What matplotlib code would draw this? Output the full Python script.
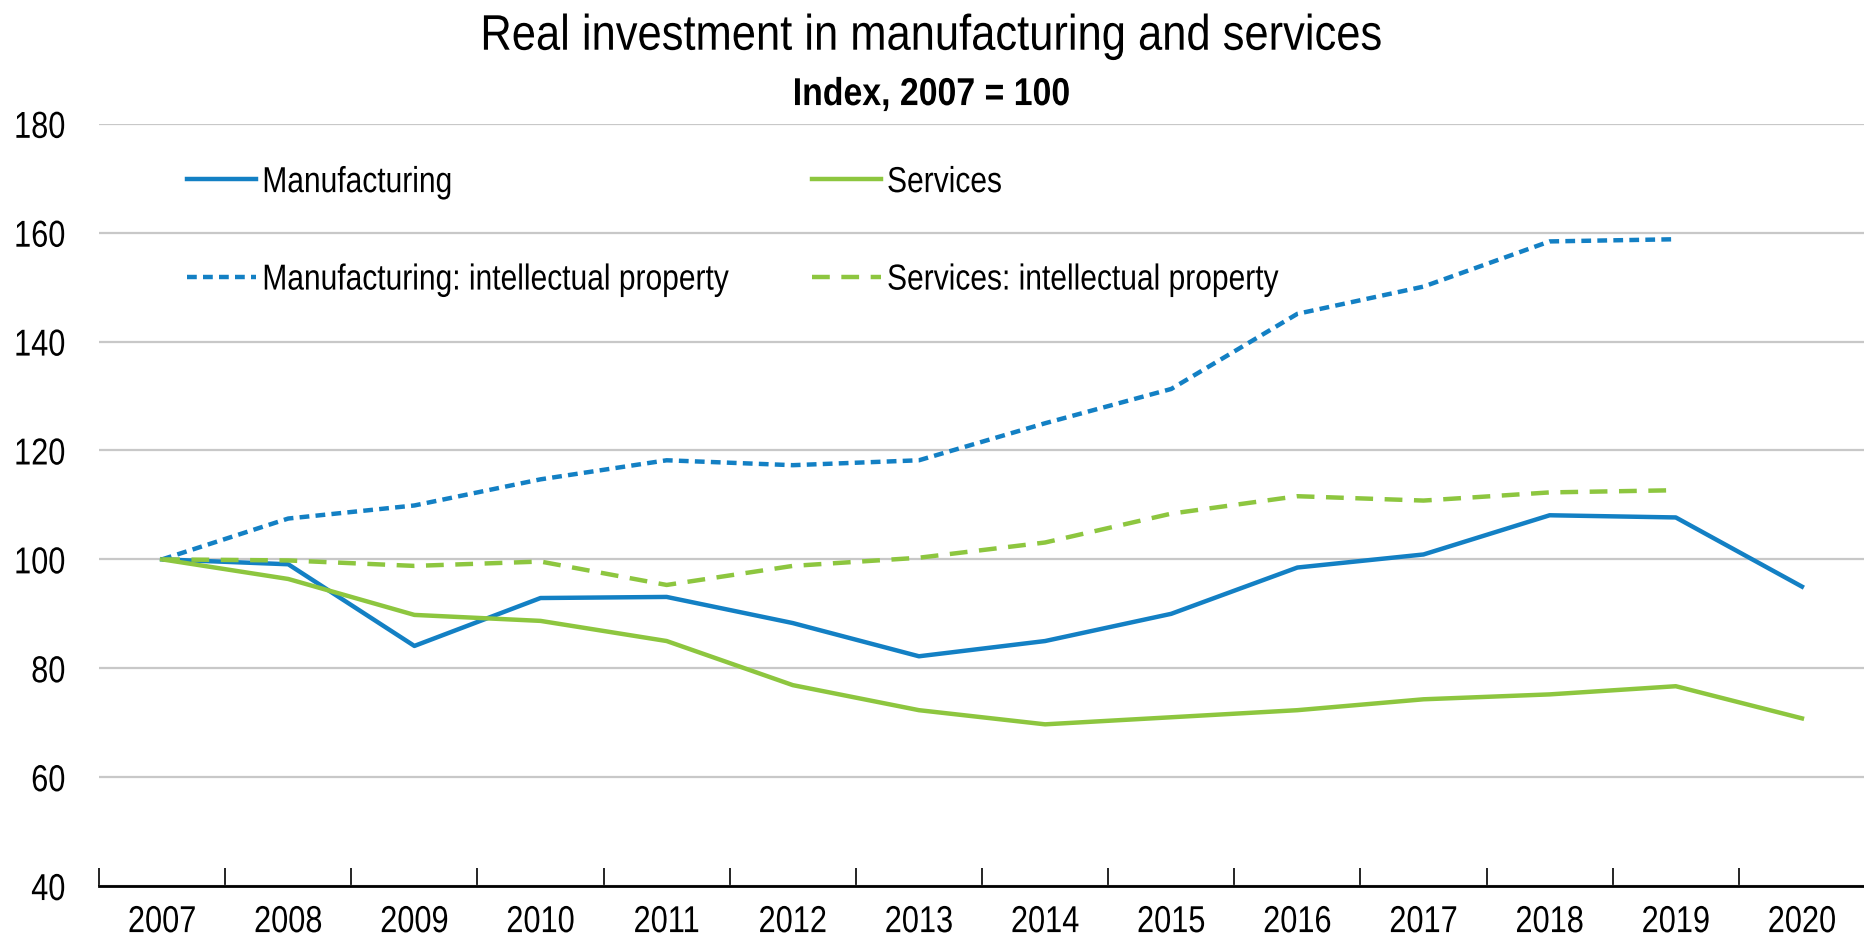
import matplotlib
matplotlib.use("Agg")
import matplotlib.pyplot as plt
from matplotlib.ticker import FixedLocator
from matplotlib.transforms import Affine2D
from matplotlib import patheffects
import numpy as np

plt.rcParams['font.family'] = ['Liberation Sans', 'DejaVu Sans']

years = ["2007", "2008", "2009", "2010", "2011", "2012", "2013",
         "2014", "2015", "2016", "2017", "2018", "2019", "2020"]
manufacturing = [100, 99.1, 84.1, 92.9, 93.1, 88.3, 82.2, 85.0, 90.0, 98.5, 100.9, 108.1, 107.7, 95.0]
services = [100, 96.4, 89.8, 88.7, 85.0, 76.9, 72.3, 69.7, 71.0, 72.3, 74.3, 75.2, 76.7, 70.8]
manuf_ip = [100, 107.5, 109.9, 114.7, 118.2, 117.3, 118.2, 125.0, 131.3, 145.1, 150.1, 158.4, 158.8]
services_ip = [100, 99.8, 98.8, 99.6, 95.3, 98.8, 100.3, 103.1, 108.4, 111.6, 110.8, 112.3, 112.7]
yticks = [40, 60, 80, 100, 120, 140, 160, 180]

blue = "#1380C4"
green = "#8DC63F"


class Narrow(patheffects.AbstractPathEffect):
    """Horizontally condense glyphs about an anchor (0=left, 0.5=center, 1=right)."""
    def __init__(self, sx=0.83, frac=0.0):
        super().__init__()
        self.sx = sx
        self.frac = frac

    def draw_path(self, renderer, gc, tpath, affine, rgbFace=None):
        ext = tpath.get_extents()
        anchor = ext.x0 + self.frac * (ext.x1 - ext.x0)
        t = Affine2D().translate(-anchor, 0).scale(self.sx, 1.0).translate(anchor, 0)
        renderer.draw_path(gc, tpath, t + affine, rgbFace)


fig = plt.figure(figsize=(18.65, 9.38), dpi=100)
ax = fig.add_axes([0.0531, 0.0554, 0.9469, 0.8126])

x = np.arange(len(years))
lw = 3.2
l1, = ax.plot(x, manufacturing, color=blue, lw=lw, label="Manufacturing")
l2, = ax.plot(x, services, color=green, lw=lw, label="Services")
l3, = ax.plot(x[:len(manuf_ip)], manuf_ip, color=blue, lw=lw, dashes=(2.2, 1.4),
              label="Manufacturing: intellectual property")
l4, = ax.plot(x[:len(services_ip)], services_ip, color=green, lw=lw, dashes=(4.0, 2.6),
              label="Services: intellectual property")

ax.set_xlim(-0.5, len(years) - 0.5)
ax.set_ylim(40, 180)
ax.set_yticks(yticks)
ax.set_xticks(x)
ax.set_xticklabels(years)
ax.xaxis.set_minor_locator(FixedLocator(np.arange(-0.5, len(years), 1.0)))
ax.tick_params(axis='x', which='major', length=0, pad=13, labelsize=27)
ax.tick_params(axis='x', which='minor', direction='in', length=13, width=1.2, color='black')
ax.tick_params(axis='y', length=0, pad=24, labelsize=27)
for lab in ax.get_xticklabels():
    lab.set_path_effects([Narrow(0.82, 0.5)])
for lab in ax.get_yticklabels():
    lab.set_path_effects([Narrow(0.82, 1.0)])

ax.grid(axis='y', color='#C8C8C8', lw=1.6)
ax.set_axisbelow(True)
for s in ['top', 'right', 'left']:
    ax.spines[s].set_visible(False)
ax.spines['bottom'].set_linewidth(2.0)
ax.spines['bottom'].set_color('black')
ax.spines['bottom'].set_zorder(5)

leg_kw = dict(loc='upper left', frameon=False, fontsize=26, handlelength=1.9,
              handletextpad=0.17, labelspacing=1.73, borderpad=0, borderaxespad=0,
              bbox_transform=fig.transFigure)
leg1 = ax.legend(handles=[l1, l3], bbox_to_anchor=(0.1003, 0.824), **leg_kw)
ax.add_artist(leg1)
leg2 = ax.legend(handles=[l2, l4], bbox_to_anchor=(0.4354, 0.824), **leg_kw)
for lg in (leg1, leg2):
    for t in lg.get_texts():
        t.set_path_effects([Narrow(0.83, 0.0)])

t1 = fig.text(0.4994, 0.947, "Real investment in manufacturing and services", ha='center',
              va='baseline', fontsize=36)
t1.set_path_effects([Narrow(0.87, 0.5)])
t2 = fig.text(0.4994, 0.888, "Index, 2007 = 100", ha='center', va='baseline', fontsize=28,
              fontweight='bold')
t2.set_path_effects([Narrow(0.87, 0.5)])

fig.savefig("out.png", dpi=100)
